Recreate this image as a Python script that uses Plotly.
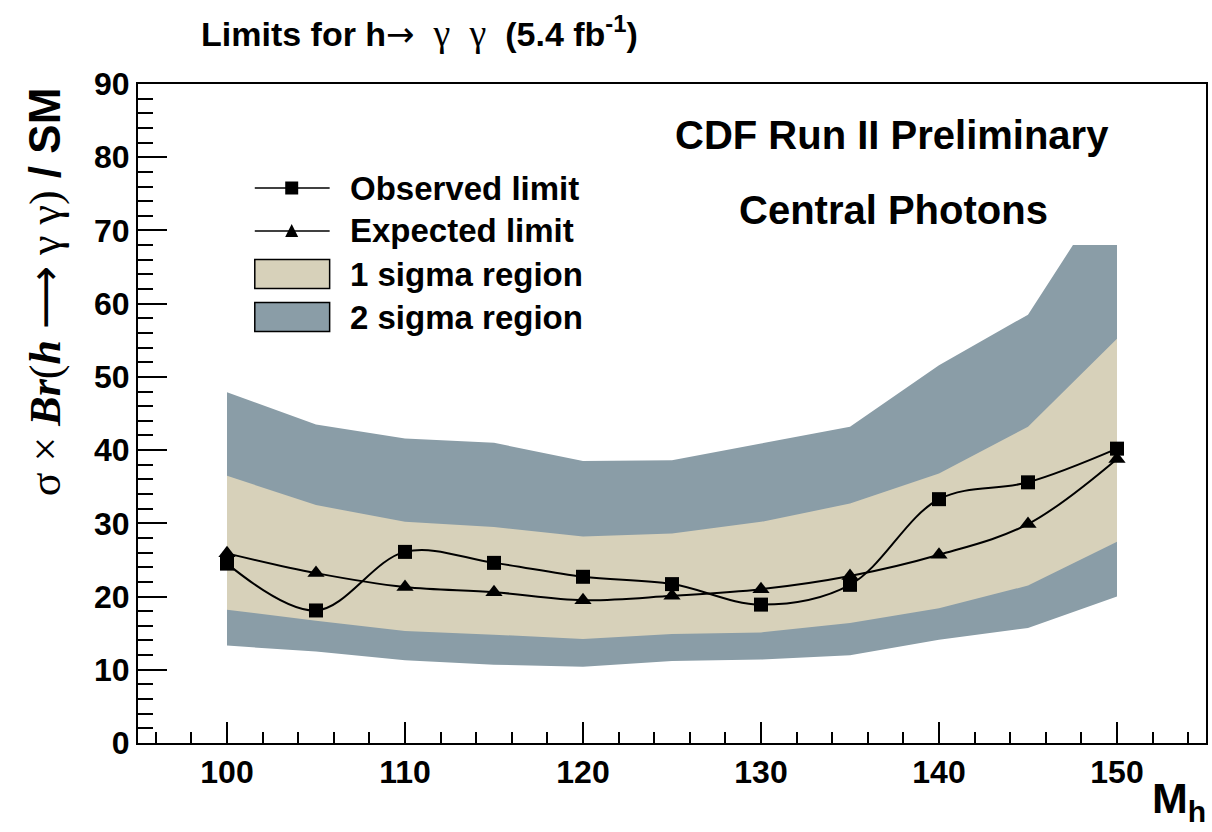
import plotly.graph_objects as go

# ---------------- data ----------------
mass = [100, 105, 110, 115, 120, 125, 130, 135, 140, 145, 150]
observed = [24.5, 18.1, 26.1, 24.6, 22.7, 21.7, 18.9, 21.6, 33.3, 35.6, 40.2]
expected = [25.9, 23.2, 21.3, 20.6, 19.5, 20.1, 21.0, 22.8, 25.7, 29.9, 38.8]
sig1_up = [36.5, 32.5, 30.2, 29.5, 28.2, 28.6, 30.2, 32.7, 36.8, 43.2, 55.2]
sig1_dn = [18.2, 16.7, 15.3, 14.8, 14.2, 14.9, 15.1, 16.4, 18.4, 21.5, 27.5]
sig2_up = [47.9, 43.5, 41.6, 41.0, 38.5, 38.6, 40.9, 43.2, 51.6, 58.5, 77.3]
sig2_dn = [13.3, 12.5, 11.3, 10.7, 10.4, 11.2, 11.4, 12.0, 14.1, 15.7, 20.0]
band_cap = 68.0  # the 2-sigma band is drawn clipped at this height

y_ticks = [0, 10, 20, 30, 40, 50, 60, 70, 80, 90]
x_ticks = [100, 110, 120, 130, 140, 150]

C_1SIG = "#D7D1BA"
C_2SIG = "#8A9DA7"

# ---------------- geometry helpers ----------------
W, H = 1212, 832
ML, MR, MT, MB = 138, 4, 84, 89
PW, PH = W - ML - MR, H - MT - MB


def px(xp):
    return (xp - ML) / PW


def py(yp):
    return (H - MB - yp) / PH


def clip_curve(xs, ys, cap):
    """Clip a polyline at a ceiling, inserting crossing points."""
    ox, oy = [], []
    for i in range(len(xs)):
        if i > 0:
            y0, y1 = ys[i - 1], ys[i]
            if (y0 - cap) * (y1 - cap) < 0:
                t = (cap - y0) / (y1 - y0)
                ox.append(xs[i - 1] + t * (xs[i] - xs[i - 1]))
                oy.append(cap)
        ox.append(xs[i])
        oy.append(min(ys[i], cap))
    return ox, oy


fig = go.Figure()

# 2 sigma band
ux, uy = clip_curve(mass, sig2_up, band_cap)
fig.add_trace(go.Scatter(
    x=ux + mass[::-1], y=uy + sig2_dn[::-1], fill="toself", fillcolor=C_2SIG,
    line=dict(width=0), mode="lines", hoverinfo="skip", showlegend=False,
    name="2 sigma region"))
# 1 sigma band
fig.add_trace(go.Scatter(
    x=mass + mass[::-1], y=sig1_up + sig1_dn[::-1], fill="toself", fillcolor=C_1SIG,
    line=dict(width=0), mode="lines", hoverinfo="skip", showlegend=False,
    name="1 sigma region"))
# expected
fig.add_trace(go.Scatter(
    x=mass, y=expected, mode="lines+markers", name="Expected limit",
    line=dict(color="black", width=2, shape="spline", smoothing=1.0),
    marker=dict(symbol="triangle-up", size=15, color="black"), showlegend=False))
# observed
fig.add_trace(go.Scatter(
    x=mass, y=observed, mode="lines+markers", name="Observed limit",
    line=dict(color="black", width=2, shape="spline", smoothing=1.0),
    marker=dict(symbol="square", size=14, color="black"), showlegend=False))

SANS = "Liberation Sans, Arial, Helvetica, sans-serif"

shapes = []
annotations = []

# ---------------- legend (drawn by hand, ROOT style) ----------------
leg_x0, leg_x1, leg_xm, leg_tx = 255, 330, 292, 348
rows = [188, 231, 274, 317]
labels = ["Observed limit", "Expected limit", "1 sigma region", "2 sigma region"]
for r in rows[:2]:
    shapes.append(dict(type="line", xref="paper", yref="paper",
                       x0=px(leg_x0), x1=px(leg_x1), y0=py(r), y1=py(r),
                       line=dict(color="black", width=1.5)))
shapes.append(dict(type="rect", xref="paper", yref="paper",
                   x0=px(leg_xm - 6.5), x1=px(leg_xm + 6.5), y0=py(rows[0] + 6.5), y1=py(rows[0] - 6.5),
                   fillcolor="black", line=dict(width=0)))
tri = "M {:.5f} {:.5f} L {:.5f} {:.5f} L {:.5f} {:.5f} Z".format(
    px(leg_xm - 6.5), py(rows[1] + 6), px(leg_xm + 6.5), py(rows[1] + 6), px(leg_xm), py(rows[1] - 7))
shapes.append(dict(type="path", xref="paper", yref="paper", path=tri,
                   fillcolor="black", line=dict(width=0)))
for r, col in zip(rows[2:], [C_1SIG, C_2SIG]):
    shapes.append(dict(type="rect", xref="paper", yref="paper",
                       x0=px(leg_x0), x1=px(leg_x1), y0=py(r + 14.5), y1=py(r - 14.5),
                       fillcolor=col, line=dict(color="black", width=1.5)))
for r, lab in zip(rows, labels):
    annotations.append(dict(text="<b>%s</b>" % lab, xref="paper", yref="paper",
                            x=px(leg_tx), y=py(r), xanchor="left", yanchor="middle",
                            showarrow=False, font=dict(family=SANS, size=33, color="black")))

# ---------------- texts ----------------
annotations.append(dict(
    text=("<b>Limits for h</b><span style='font-family:DejaVu Sans'>&#8594;</span>"
          "<span style='font-family:Liberation Serif;font-size:38px'>&#160;&#160;&#947;&#160;&#160;&#947;&#160;&#160;</span>"
          "<b>(5.4 fb<sup>-1</sup>)</b>"),
    xref="paper", yref="paper", x=px(199), y=py(32), xanchor="left", yanchor="middle",
    showarrow=False, font=dict(family=SANS, size=34, color="black")))
annotations.append(dict(text="<b>CDF Run II Preliminary</b>", xref="paper", yref="paper",
                        x=px(893), y=py(135), xanchor="center", yanchor="middle", showarrow=False,
                        font=dict(family=SANS, size=40, color="black")))
annotations.append(dict(text="<b>Central Photons</b>", xref="paper", yref="paper",
                        x=px(895), y=py(210), xanchor="center", yanchor="middle", showarrow=False,
                        font=dict(family=SANS, size=40, color="black")))
annotations.append(dict(
    text=("<span style='font-family:Liberation Serif'>&#963;&#160;&#215;&#160;<b><i>Br</i></b>(<b><i>h</i></b>&#160;"
          "</span><span style='font-family:DejaVu Sans'>&#10230;</span>"
          "<span style='font-family:Liberation Serif'>&#160;&#947;&#160;&#947;)</span><b>&#160;/&#160;SM</b>"),
    xref="paper", yref="paper", x=px(44), y=py(292), xanchor="center", yanchor="middle",
    textangle=-90, showarrow=False, font=dict(family=SANS, size=44, color="black")))
annotations.append(dict(text="<b>M<sub>h</sub></b>", xref="paper", yref="paper",
                        x=px(1210), y=py(830), xanchor="right", yanchor="bottom", showarrow=False,
                        font=dict(family=SANS, size=43, color="black")))

tickfont = dict(family=SANS, size=32, color="black", weight="bold")

fig.update_layout(
    width=W, height=H,
    margin=dict(l=ML, r=MR, t=MT, b=MB),
    paper_bgcolor="white", plot_bgcolor="white",
    showlegend=False,
    shapes=shapes, annotations=annotations,
    xaxis=dict(range=[95, 155], tickvals=x_ticks, ticktext=[str(v) for v in x_ticks],
               ticks="inside", ticklen=21, tickwidth=2, tickcolor="black",
               minor=dict(ticks="inside", ticklen=11, dtick=2, tick0=100, tickwidth=2,
                          tickcolor="black", showgrid=False),
               showline=True, linecolor="black", linewidth=2, mirror=True,
               showgrid=False, zeroline=False, tickfont=tickfont),
    yaxis=dict(range=[0, 90], tickvals=y_ticks, ticktext=[str(v) for v in y_ticks],
               ticks="inside", ticklen=29, tickwidth=2, tickcolor="black",
               minor=dict(ticks="inside", ticklen=15, dtick=2, tick0=0, tickwidth=2,
                          tickcolor="black", showgrid=False),
               showline=True, linecolor="black", linewidth=2, mirror=True,
               showgrid=False, zeroline=False, tickfont=tickfont),
)

fig.write_html("out.html", config={"displayModeBar": False})

# remove the browser's default body margin so the figure fills the window exactly
with open("out.html", "r", encoding="utf-8") as f:
    html = f.read()
html = html.replace("<body>", "<body style=\"margin:0;padding:0;overflow:hidden\">", 1)
with open("out.html", "w", encoding="utf-8") as f:
    f.write(html)
